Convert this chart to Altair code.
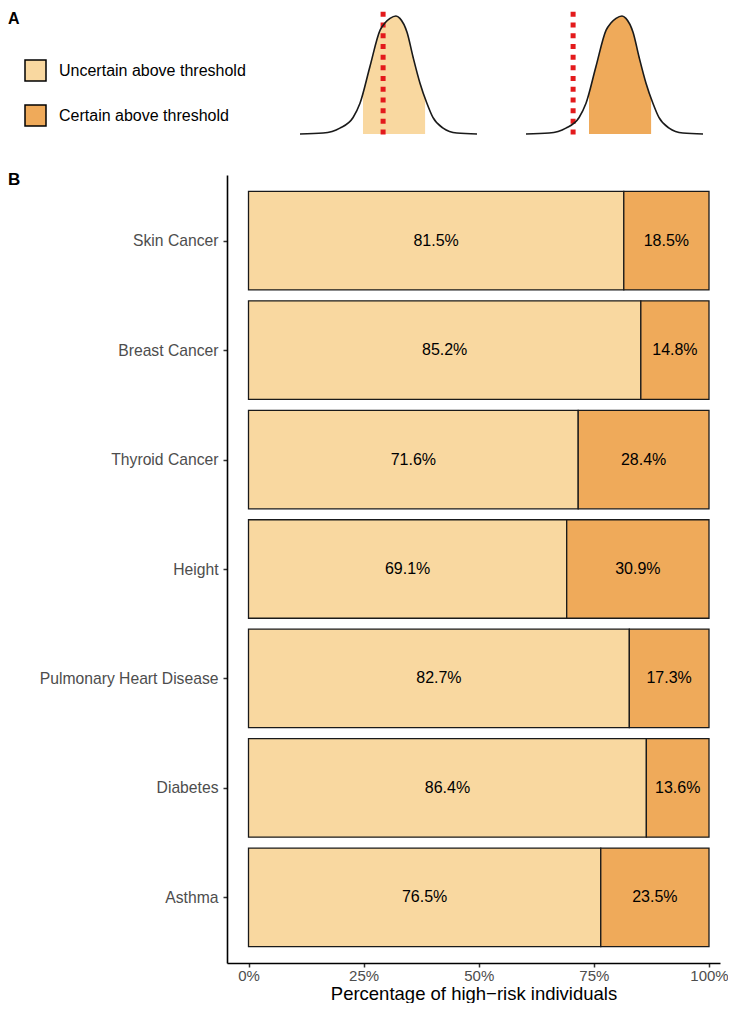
import altair as alt
import pandas as pd

FONT = "Liberation Sans"

# ---------------- Panel B data ----------------
categories = ["Skin Cancer", "Breast Cancer", "Thyroid Cancer", "Height",
              "Pulmonary Heart Disease", "Diabetes", "Asthma"]
uncertain = [81.5, 85.2, 71.6, 69.1, 82.7, 86.4, 76.5]
certain = [18.5, 14.8, 28.4, 30.9, 17.3, 13.6, 23.5]
classes = ["Uncertain above threshold", "Certain above threshold"]
class_colors = ["#F9D8A0", "#EFAA5A"]
x_ticks = [0, 25, 50, 75, 100]

# ---------------- Panel A data (schematic densities) ----------------
shape_z = [-3.2, -2.43, -1.87, -1.43, -1.2, -0.87, -0.53, -0.37, -0.2, 0.0,
           0.13, 0.37, 0.57, 0.8, 1.03, 1.23, 1.57, 2.03, 2.7]
shape_d = [0.0, 0.008, 0.05, 0.14, 0.26, 0.57, 0.88, 0.94, 0.98, 1.0,
           0.98, 0.86, 0.65, 0.43, 0.26, 0.14, 0.05, 0.008, 0.0]
shade_z = [-1.1, -0.87, -0.53, -0.37, -0.2, 0.0, 0.13, 0.37, 0.57, 0.8, 0.97]
shade_d = [0.35, 0.57, 0.88, 0.94, 0.98, 1.0, 0.98, 0.86, 0.65, 0.43, 0.30]
panel_threshold = [-0.43, -1.63]
threshold_span = [1.035, -0.04]

# ---------------- layout constants (placement of the schematic) ----------------
BAR_HALF = 0.45
PANEL_CENTER = [32.03, 81.11]  # x-axis units
PANEL_SPREAD = 6.515           # x-axis units per z unit
DENS_BASE = 0.0254             # y-axis units
DENS_AMP = 1.0782              # y-axis units per density unit

# ---------------- build tables ----------------
rows = []
for i, (c, u, k) in enumerate(zip(categories, uncertain, certain)):
    rows.append(dict(trait=c, idx=i + 1, cls=classes[0], value=u, start=0.0, end=u))
    rows.append(dict(trait=c, idx=i + 1, cls=classes[1], value=k, start=u, end=u + k))
bars_df = pd.DataFrame(rows)

x_scale = alt.Scale(domain=[-4.669, 102.39], nice=False, zero=False)
y_scale = alt.Scale(domain=[0.4, len(categories) + 0.6], reverse=True, nice=False, zero=False)

label_expr = "[" + ", ".join("'" + c + "'" for c in categories) + "][datum.value - 1]"

bars = alt.Chart(bars_df).transform_calculate(
    y0=f"datum.idx - {BAR_HALF}", y1=f"datum.idx + {BAR_HALF}"
).mark_bar(stroke="#1a1a1a", strokeWidth=1.3).encode(
    x=alt.X("start:Q", scale=x_scale,
            axis=alt.Axis(values=x_ticks, labelExpr="datum.value + '%'",
                          title="Percentage of high\u2212risk individuals",
                          titleFontSize=18.5, titleFont=FONT, titleFontWeight="normal",
                          titleColor="black", titlePadding=1,
                          labelFont=FONT, labelFontSize=15, labelColor="#4D4D4D",
                          labelPadding=1, tickSize=4, tickWidth=1.5, tickColor="#333333",
                          domainColor="black", domainWidth=1.6, grid=False)),
    x2="end:Q",
    y=alt.Y("y0:Q", scale=y_scale,
            axis=alt.Axis(title=None, values=list(range(1, len(categories) + 1)),
                          labelExpr=label_expr, labelFont=FONT, labelFontSize=15.7,
                          labelColor="#4D4D4D", labelPadding=5, tickSize=4,
                          tickWidth=1.5, tickColor="#333333", domainColor="black",
                          domainWidth=1.6, grid=False, labelLimit=300)),
    y2="y1:Q",
    color=alt.Color("cls:N", scale=alt.Scale(domain=classes, range=class_colors),
                    legend=alt.Legend(title=None, orient="none", legendX=-203, legendY=-116,
                                      symbolType="square", symbolSize=441,
                                      symbolStrokeColor="black", symbolStrokeWidth=1.5,
                                      symbolOpacity=1, labelFont=FONT, labelFontSize=16,
                                      labelColor="black", labelOffset=12, rowPadding=18,
                                      labelLimit=400, padding=0)),
)

text = alt.Chart(bars_df).transform_calculate(
    mid="(datum.start + datum.end) / 2",
    label="format(datum.value, '.1f') + '%'",
).mark_text(font=FONT, fontSize=16, color="black").encode(
    x=alt.X("mid:Q"),
    y=alt.Y("idx:Q"),
    text="label:N",
)

one = pd.DataFrame({"k": [0]})
label_a = alt.Chart(one).mark_text(text="A", font=FONT, fontSize=16, fontWeight="bold",
                                   align="left", baseline="top", color="black").encode(
    x=alt.value(-219), y=alt.value(-164))
label_b = alt.Chart(one).mark_text(text="B", font=FONT, fontSize=17, fontWeight="bold",
                                   align="left", baseline="top", color="black").encode(
    x=alt.value(-219), y=alt.value(-3))

layers = [bars, text, label_a, label_b]

for i in range(2):
    xcalc = f"{PANEL_CENTER[i]} + datum.z * {PANEL_SPREAD}"
    ycalc = f"{DENS_BASE} - datum.d * {DENS_AMP}"
    cdf = pd.DataFrame({"z": shape_z, "d": shape_d})
    sdf = pd.DataFrame({"z": shade_z, "d": shade_d})
    area = alt.Chart(sdf).transform_calculate(
        xp=xcalc, yp=ycalc, yb=f"{DENS_BASE}"
    ).mark_area(color=class_colors[i], interpolate="monotone").encode(
        x=alt.X("xp:Q"), y=alt.Y("yp:Q"), y2="yb:Q")
    rdf = pd.DataFrame({"z": [panel_threshold[i]], "top": [threshold_span[0]],
                        "bottom": [threshold_span[1]]})
    rule = alt.Chart(rdf).transform_calculate(
        xp=xcalc,
        yt=f"{DENS_BASE} - datum.top * {DENS_AMP}",
        ybm=f"{DENS_BASE} - datum.bottom * {DENS_AMP}",
    ).mark_rule(color="#E31A1C", strokeWidth=5, strokeDash=[5, 5.7]).encode(
        x=alt.X("xp:Q"), y=alt.Y("yt:Q"), y2="ybm:Q")
    line = alt.Chart(cdf).transform_calculate(
        xp=xcalc, yp=ycalc
    ).mark_line(color="#1a1a1a", strokeWidth=1.6, interpolate="monotone").encode(
        x=alt.X("xp:Q"), y=alt.Y("yp:Q"))
    layers += [area, rule, line]

chart = alt.layer(*layers).properties(
    width=493, height=788,
    autosize=alt.AutoSizeParams(type="none"),
    padding={"left": 219, "top": 167, "right": 8, "bottom": 40},
).configure_view(stroke=None)

chart.save("out.html", embed_options={"renderer": "svg", "actions": False})
